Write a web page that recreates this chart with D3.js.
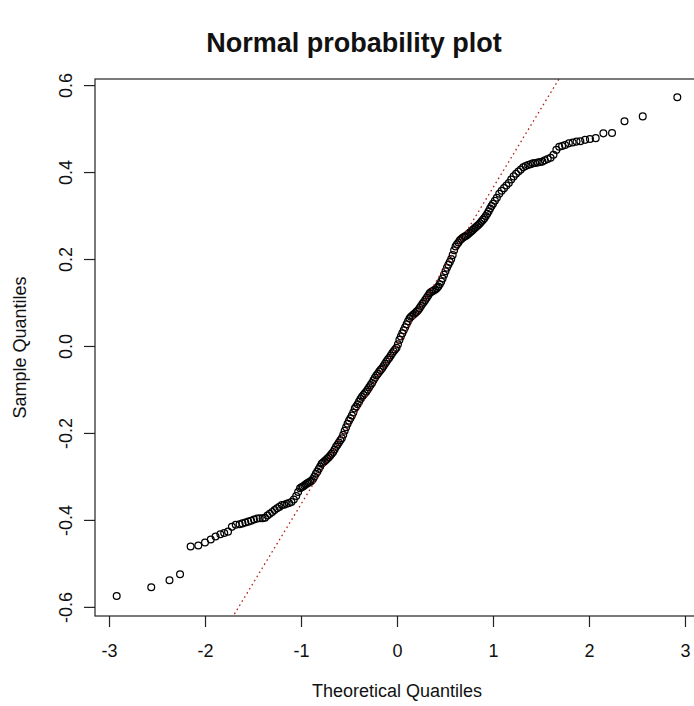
<!DOCTYPE html>
<html>
<head>
<meta charset="utf-8">
<script src="https://cdn.jsdelivr.net/npm/d3@7"></script>
<style>
  body { margin: 0; background: #fff; }
  text { font-family: "Liberation Sans", Arial, sans-serif; fill: #111; }
</style>
</head>
<body>
<div id="chart"></div>
<script>
// theoretical quantiles (x) and sample quantiles (y)
var theoreticalQ = [
  -2.92, -2.56, -2.37, -2.26, -2.15, -2.07, -2.00, -1.94, -1.89, -1.84,
  -1.80, -1.76, -1.72, -1.68, -1.64, -1.61, -1.58, -1.55, -1.52, -1.49,
  -1.46, -1.43, -1.40, -1.375, -1.35, -1.325, -1.30, -1.275, -1.25, -1.225,
  -1.20, -1.175, -1.15, -1.125, -1.10, -1.075, -1.05, -1.03, -1.01, -0.995,
  -0.98, -0.965, -0.95, -0.935, -0.92, -0.905, -0.89, -0.875, -0.86, -0.845,
  -0.83, -0.815, -0.80, -0.785, -0.77, -0.755, -0.74, -0.725, -0.71, -0.695,
  -0.68, -0.665, -0.65, -0.635, -0.62, -0.605, -0.59, -0.575, -0.56, -0.545,
  -0.53, -0.515, -0.50, -0.485, -0.47, -0.455, -0.44, -0.425, -0.41, -0.395,
  -0.38, -0.365, -0.35, -0.335, -0.32, -0.305, -0.29, -0.275, -0.26, -0.245,
  -0.23, -0.215, -0.20, -0.185, -0.17, -0.155, -0.14, -0.125, -0.11, -0.095,
  -0.08, -0.065, -0.05, -0.035, -0.02, -0.005, 0.01, 0.025, 0.04, 0.055,
  0.07, 0.085, 0.10, 0.115, 0.13, 0.145, 0.16, 0.175, 0.19, 0.205,
  0.22, 0.235, 0.25, 0.265, 0.28, 0.295, 0.31, 0.325, 0.34, 0.355,
  0.37, 0.385, 0.40, 0.415, 0.43, 0.445, 0.46, 0.475, 0.49, 0.505,
  0.52, 0.535, 0.55, 0.565, 0.58, 0.595, 0.61, 0.625, 0.64, 0.655,
  0.67, 0.685, 0.70, 0.715, 0.73, 0.745, 0.76, 0.775, 0.79, 0.805,
  0.82, 0.835, 0.85, 0.865, 0.88, 0.895, 0.91, 0.925, 0.94, 0.955,
  0.97, 0.985, 1.00, 1.02, 1.04, 1.065, 1.09, 1.115, 1.14, 1.165,
  1.19, 1.215, 1.24, 1.265, 1.29, 1.315, 1.34, 1.365, 1.39, 1.415,
  1.44, 1.465, 1.49, 1.515, 1.54, 1.57, 1.60, 1.63, 1.66, 1.69,
  1.72, 1.75, 1.79, 1.83, 1.87, 1.91, 1.96, 2.01, 2.07, 2.15,
  2.24, 2.37, 2.56, 2.92
];

var sampleQ = [
  -0.575, -0.555, -0.539, -0.525, -0.461, -0.459, -0.452, -0.445, -0.438, -0.433,
  -0.430, -0.427, -0.416, -0.411, -0.410, -0.408, -0.406, -0.404, -0.402, -0.399,
  -0.397, -0.396, -0.396, -0.395, -0.390, -0.386, -0.382, -0.377, -0.373, -0.370,
  -0.366, -0.365, -0.363, -0.361, -0.359, -0.353, -0.345, -0.336, -0.327, -0.325,
  -0.323, -0.321, -0.318, -0.316, -0.314, -0.312, -0.310, -0.306, -0.300, -0.294,
  -0.289, -0.283, -0.277, -0.271, -0.268, -0.265, -0.262, -0.259, -0.256, -0.252,
  -0.248, -0.244, -0.238, -0.232, -0.227, -0.222, -0.217, -0.212, -0.204, -0.195,
  -0.187, -0.179, -0.172, -0.166, -0.160, -0.153, -0.144, -0.139, -0.134, -0.128,
  -0.122, -0.117, -0.113, -0.109, -0.105, -0.100, -0.095, -0.090, -0.085, -0.079,
  -0.073, -0.068, -0.064, -0.059, -0.055, -0.051, -0.046, -0.041, -0.036, -0.031,
  -0.027, -0.022, -0.017, -0.012, -0.008, -0.004, 0.004, 0.014, 0.022, 0.029,
  0.036, 0.043, 0.050, 0.057, 0.063, 0.067, 0.070, 0.073, 0.076, 0.079,
  0.082, 0.087, 0.092, 0.097, 0.101, 0.106, 0.111, 0.116, 0.121, 0.124,
  0.126, 0.128, 0.130, 0.133, 0.137, 0.142, 0.148, 0.155, 0.164, 0.172,
  0.180, 0.187, 0.193, 0.200, 0.209, 0.220, 0.229, 0.234, 0.238, 0.243,
  0.246, 0.249, 0.251, 0.253, 0.255, 0.258, 0.261, 0.264, 0.267, 0.270,
  0.273, 0.276, 0.279, 0.282, 0.286, 0.290, 0.294, 0.299, 0.304, 0.310,
  0.316, 0.322, 0.327, 0.334, 0.341, 0.350, 0.357, 0.363, 0.369, 0.375,
  0.383, 0.390, 0.396, 0.401, 0.406, 0.411, 0.414, 0.416, 0.418, 0.420,
  0.421, 0.422, 0.423, 0.424, 0.427, 0.430, 0.433, 0.440, 0.451, 0.458,
  0.460, 0.462, 0.466, 0.468, 0.470, 0.471, 0.474, 0.476, 0.478, 0.489,
  0.490, 0.517, 0.528, 0.572
];

var xTicks = [-3, -2, -1, 0, 1, 2, 3];
var yTicks = [-0.6, -0.4, -0.2, 0.0, 0.2, 0.4, 0.6];

// qqline through the quartiles
var lineIntercept = 0.0;
var lineSlope = 0.364;

var titleText = "Normal probability plot";
var xLabel = "Theoretical Quantiles";
var yLabel = "Sample Quantiles";

if (theoreticalQ.length !== sampleQ.length) {
    console.error("length mismatch", theoreticalQ.length, sampleQ.length);
}

var width = 694;
var height = 706;
var box = {left: 95, right: 699, top: 79, bottom: 616};

var x = d3.scaleLinear().domain([-3.146, 3.146]).range([box.left, box.right]);
var y = d3.scaleLinear().domain([-0.621, 0.614]).range([box.bottom, box.top]);

var points = theoreticalQ.map(function (d, i) { return {x: d, y: sampleQ[i]}; });

var svg = d3.select('#chart').append('svg')
    .attr('width', width)
    .attr('height', height);

svg.append('defs').append('clipPath')
    .attr('id', 'plotclip')
  .append('rect')
    .attr('x', box.left)
    .attr('y', box.top)
    .attr('width', box.right - box.left)
    .attr('height', box.bottom - box.top);

// points
svg.append('g')
    .selectAll('circle')
    .data(points)
    .enter().append('circle')
    .attr('cx', function (d) { return x(d.x); })
    .attr('cy', function (d) { return y(d.y); })
    .attr('r', 3.4)
    .attr('fill', 'none')
    .attr('stroke', '#000')
    .attr('stroke-width', 1.25);

// reference line (dotted red)
var xd = x.domain();
svg.append('line')
    .attr('clip-path', 'url(#plotclip)')
    .attr('x1', x(xd[0]))
    .attr('y1', y(lineIntercept + lineSlope * xd[0]))
    .attr('x2', x(xd[1]))
    .attr('y2', y(lineIntercept + lineSlope * xd[1]))
    .attr('stroke', '#b0241c')
    .attr('stroke-width', 1.3)
    .attr('stroke-dasharray', '1.6,3.2');

// box
svg.append('rect')
    .attr('x', box.left)
    .attr('y', box.top)
    .attr('width', box.right - box.left)
    .attr('height', box.bottom - box.top)
    .attr('fill', 'none')
    .attr('stroke', '#222')
    .attr('stroke-width', 1.2);

// x axis
var xAxis = svg.append('g')
    .attr('transform', 'translate(0,' + box.bottom + ')')
    .call(d3.axisBottom(x)
        .tickValues(xTicks)
        .tickFormat(function (d) { return String(d); })
        .tickSize(11)
        .tickPadding(17)
        .tickSizeOuter(0));
xAxis.select('.domain').remove();
xAxis.selectAll('.tick line').attr('stroke', '#222').attr('stroke-width', 1.2);
xAxis.selectAll('.tick text')
    .style('font-family', '"Liberation Sans", Arial, sans-serif')
    .style('font-size', '18px')
    .attr('fill', '#111');

// y axis, labels rotated like R
var yAxis = svg.append('g')
    .attr('transform', 'translate(' + box.left + ',0)')
    .call(d3.axisLeft(y)
        .tickValues(yTicks)
        .tickFormat(function (d) { return d.toFixed(1); })
        .tickSize(11)
        .tickSizeOuter(0));
yAxis.select('.domain').remove();
yAxis.selectAll('.tick line').attr('stroke', '#222').attr('stroke-width', 1.2);
yAxis.selectAll('.tick text')
    .attr('x', null)
    .attr('dy', null)
    .attr('text-anchor', 'middle')
    .attr('transform', 'translate(-23,0) rotate(-90)')
    .style('font-family', '"Liberation Sans", Arial, sans-serif')
    .style('font-size', '18px')
    .attr('fill', '#111');

// title and axis labels
svg.append('text')
    .attr('x', 354)
    .attr('y', 52)
    .attr('text-anchor', 'middle')
    .style('font-size', '27px')
    .style('font-weight', 'bold')
    .text(titleText);

svg.append('text')
    .attr('x', (box.left + box.right) / 2)
    .attr('y', 697)
    .attr('text-anchor', 'middle')
    .style('font-size', '18px')
    .text(xLabel);

svg.append('text')
    .attr('transform', 'translate(26,' + ((box.top + box.bottom) / 2) + ') rotate(-90)')
    .attr('text-anchor', 'middle')
    .style('font-size', '18px')
    .text(yLabel);
</script>
</body>
</html>
